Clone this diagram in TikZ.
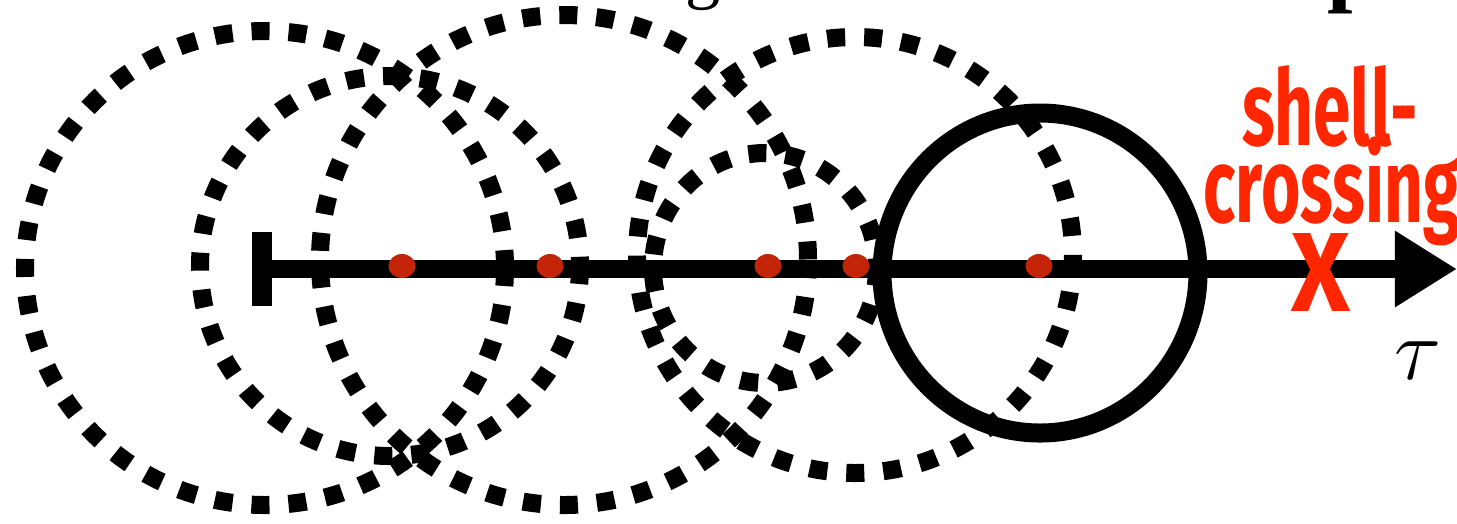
\documentclass[tikz,border=0pt]{standalone}
\usepackage{amsmath}
\usepackage{fontspec}
\usetikzlibrary{arrows.meta}
\newfontfamily\crossfont{Fira Sans}
\newfontfamily\titlefont{Liberation Serif}
\definecolor{crossred}{RGB}{255,38,0}
\definecolor{dotred}{RGB}{196,36,8}
\tikzset{
  shell/.style={line width=0.18cm, dash pattern=on 0.18cm off 0.19cm},
  event/.style={fill=dotred},
  crosslabel/.style={text=crossred, inner sep=0pt,
    font=\crossfont\bfseries\fontsize{30}{30}\selectfont}
}

\begin{document}
\begin{tikzpicture}[x=0.01cm,y=-0.01cm]
    \useasboundingbox (0,0) rectangle (1457,523);

    % centres of the shells
    \coordinate (cA) at (265,268);
    \coordinate (cB) at (390,266);
    \coordinate (cC) at (564,260);
    \coordinate (cD) at (765,268);
    \coordinate (cE) at (855,255);
    \coordinate (cF) at (1040,273);

    % points on the axis
    \coordinate (start) at (262,269);
    \coordinate (tip) at (1457,269);
    \coordinate (bartop) at (262,232);
    \coordinate (barbot) at (262,306);

    \coordinate (e1) at (402,266);
    \coordinate (e2) at (550,266);
    \coordinate (e3) at (768,266);
    \coordinate (e4) at (856,266);
    \coordinate (e5) at (1039,266);

    \draw[shell] (cA) ellipse [x radius=240, y radius=237];
    \draw[shell] (cB) ellipse [x radius=190, y radius=190];
    \draw[shell] (cC) ellipse [x radius=244, y radius=245];
    \draw[shell] (cD) ellipse [x radius=112, y radius=115];
    \draw[shell] (cE) ellipse [x radius=218, y radius=218];
    \draw[line width=0.19cm] (cF) ellipse [x radius=158, y radius=160];

    \draw[line width=0.18cm, -{Triangle[length=0.62cm,width=0.72cm]}] (start) -- (tip);
    \draw[line width=0.2cm] (bartop) -- (barbot);

    \foreach \e in {e1,e2,e3,e4,e5} {
        \fill[event] (\e) ellipse [x radius=13.5, y radius=12];
    }

    \node[crosslabel, anchor=base] (shelltxt) at (1330,145) {\scalebox{0.64}[1]{shell-}};
    \node[crosslabel, anchor=base] (crosstxt) at (1332,222) {\scalebox{0.64}[1]{crossing}};
    \node[crosslabel, font=\crossfont\bfseries\fontsize{32}{32}\selectfont] (cross) at (1321,272) {\scalebox{0.9}[1]{X}};
    \node (tau) at (1418,361) {\fontsize{26}{30}\selectfont$\tau$};

    % title above, cut by the frame
    \node[anchor=base] (tg) at (703,-5) {\titlefont\fontsize{20}{24}\selectfont g};
    \node[anchor=base] (tp) at (1353,-6) {\titlefont\bfseries\fontsize{26}{30}\selectfont p};
\end{tikzpicture}
\end{document}
